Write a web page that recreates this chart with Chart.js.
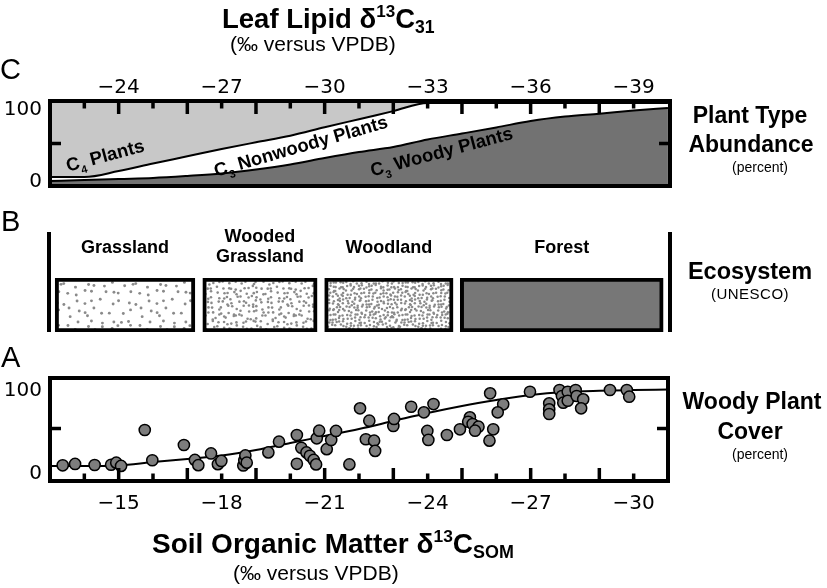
<!DOCTYPE html>
<html><head><meta charset="utf-8">
<script src="https://cdn.jsdelivr.net/npm/chart.js@4.4.1/dist/chart.umd.min.js"></script>
<style>
html,body{margin:0;padding:0;background:#fff;}
#wrap{position:relative;width:827px;height:588px;overflow:hidden;font-family:"Liberation Sans",Arial,sans-serif;color:#000;}
canvas{position:absolute;left:0;top:0;}
.t{position:absolute;white-space:nowrap;line-height:1;}
.b{font-weight:bold;}
.c{text-align:center;width:200px;}
sup{font-size:0.62em;vertical-align:0.62em;line-height:0;}
sub{font-size:0.64em;vertical-align:-0.3em;line-height:0;}
</style></head>
<body><div id="wrap">
<canvas id="cC" width="827" height="588"></canvas>
<canvas id="cB" width="827" height="588"></canvas>
<canvas id="cA" width="827" height="588"></canvas>

<div class="t b" style="left:222px;top:5px;font-size:27.5px">Leaf Lipid δ<sup>13</sup>C<sub>31</sub></div>
<div class="t" style="left:230px;top:33px;font-size:21px">(‰ versus VPDB)</div>
<div class="t" style="left:0px;top:55px;font-size:29px">C</div>
<div class="t" style="left:1px;top:207px;font-size:29px">B</div>
<div class="t" style="left:1px;top:343px;font-size:29px">A</div>

<div class="t b c" style="left:650px;top:104px;font-size:23px">Plant Type</div>
<div class="t b c" style="left:651px;top:133px;font-size:23px">Abundance</div>
<div class="t c" style="left:660px;top:160px;font-size:14px">(percent)</div>
<div class="t b c" style="left:650px;top:260px;font-size:23.5px">Ecosystem</div>
<div class="t c" style="left:650px;top:286px;font-size:15px;letter-spacing:0.5px">(UNESCO)</div>
<div class="t b c" style="left:652px;top:390px;font-size:23px">Woody Plant</div>
<div class="t b c" style="left:650px;top:420px;font-size:23px">Cover</div>
<div class="t c" style="left:660px;top:447px;font-size:14px">(percent)</div>

<div class="t b" style="left:152px;top:530px;font-size:28px">Soil Organic Matter δ<sup>13</sup>C<sub>SOM</sub></div>
<div class="t" style="left:233px;top:562px;font-size:21px">(‰ versus VPDB)</div>
</div>
<script>
// ---------------- DATA ----------------
// Panel C: leaf lipid δ13C31 (‰ vs VPDB) and plant type abundance (%)
const leafD13C      = [-22,-23,-24,-25,-26,-27,-28,-29,-30,-31,-32,-33,-34,-35,-36,-37,-38,-39,-40];
const c3WoodyPct    = [3.7,4.9,6.2,7.4,9.9,13.0,17.9,24.1,32.1,39.5,45.7,55.0,62.3,69.8,77.8,83.3,86.8,90.7,93.8];
const c3NonwoodyPct = [4.9,3.7,9.8,17.9,24.3,30.2,33.6,35.5,37.9,40.5,44.3,45.0,37.7,30.2,22.2,16.7,13.2,9.3,6.2];
const c4Pct         = [91.4,91.4,84.0,74.7,65.8,56.8,48.5,40.4,30.0,20.0,10.0,0,0,0,0,0,0,0,0];
const leafTicks     = [-24,-27,-30,-33,-36,-39];

// Panel B: ecosystem classes along soil δ13C
const ecoNames = ['Grassland', ['Wooded','Grassland'], 'Woodland', 'Forest'];
const ecoFrom  = [-13.15, -17.45, -21.0, -24.95];
const ecoTo    = [-17.22, -20.78, -24.74, -30.86];

// Panel A: soil organic matter δ13C (‰) vs woody plant cover (%)
const somD13C = [-13.37,-13.73,-14.30,-14.78,-14.93,-15.07,-15.76,-15.98,-16.90,-17.22,-17.32,-17.69,-17.89,-17.99,
  -18.63,-18.66,-18.69,-18.73,-19.36,-19.67,-20.19,-20.19,-20.32,-20.47,-20.57,-20.68,-20.75,-20.77,-20.84,
  -21.06,-21.19,-21.33,-21.72,-22.03,-22.20,-22.30,-22.44,-22.47,-23.00,-23.02,-23.52,-23.89,-24.17,-23.99,
  -24.02,-24.56,-24.94,-25.23,-25.18,-25.31,-25.48,-25.38,-25.82,-26.20,-26.04,-25.91,-25.80,-26.98,-27.54,
  -27.54,-27.54,-27.84,-27.91,-27.95,-28.08,-28.08,-28.31,-28.34,-28.53,-28.47,-29.31,-29.80,-29.87];
const woodyCover = [3.4,5.1,3.8,4.1,6.7,2.6,48.1,9.8,29.1,10.2,3.6,18.4,4.8,8.9,
  3.2,9.8,15.9,6.7,19.7,33.3,41.8,5.3,25.6,19.7,15.5,10.2,4.5,37.6,47.2,
  23.8,35.5,46.9,4.5,75.6,36.4,59.9,34.6,21.6,53.2,62.1,77.6,70.5,81.0,46.9,
  35.5,41.8,49.0,64.2,58.6,55.7,52.3,47.2,94.6,80.7,70.5,49.0,34.6,96.6,81.9,
  74.3,68.4,98.8,91.2,82.7,96.6,85.2,98.8,91.2,87.0,75.6,98.8,98.8,90.3];
const fitD13C  = [-13,-14,-15,-16,-17,-18,-19,-20,-21,-22,-23,-24,-25,-26,-27,-28,-29,-30,-31];
const fitCover = [2.5,2.5,3.2,7.6,11.4,15.8,22.8,31.6,40.5,49.4,59.5,69.6,78.5,86.0,92.4,96.2,97.8,98.7,99.4];
const somTicks = [-15,-18,-21,-24,-27,-30];

// ---------------- HELPERS ----------------
Chart.defaults.font.family = '"DejaVu Sans"';
Chart.defaults.color = '#000';
const minus = v => (v < 0 ? '\u2212' + Math.abs(v) : String(v));
const TICKFONT = {family:'"DejaVu Sans"', size:20};

function hash(a,b,s){ const v = Math.sin(a*127.1 + b*311.7 + s*74.7) * 43758.5453; return v - Math.floor(v); }
function stipple(spacing, n, r, seed){
  const tile = spacing*n;
  const c = document.createElement('canvas'); c.width = c.height = tile;
  const g = c.getContext('2d'); g.fillStyle = '#fff'; g.fillRect(0,0,tile,tile);
  g.fillStyle = '#8a8a8a';
  for (let i=0;i<n;i++) for (let j=0;j<n;j++){
    const x = (i+0.5)*spacing + (hash(i,j,seed)-0.5)*spacing*0.85;
    const y = (j+0.5)*spacing + (hash(j,i,seed+3)-0.5)*spacing*0.85;
    for (const ox of [-tile,0,tile]) for (const oy of [-tile,0,tile]){
      g.beginPath(); g.arc(x+ox,y+oy,r,0,Math.PI*2); g.fill();
    }
  }
  return g.createPattern(c,'repeat');
}
function seg(ctx,x1,y1,x2,y2){ ctx.beginPath(); ctx.moveTo(x1,y1); ctx.lineTo(x2,y2); ctx.stroke(); }
function drawRich(ctx, cx, cy, deg, parts, size){
  ctx.save();
  ctx.translate(cx,cy); ctx.rotate(deg*Math.PI/180);
  const big = `bold ${size}px "Liberation Sans"`, small = `bold ${Math.round(size*0.6)}px "Liberation Sans"`;
  let w = 0;
  for (const [t,s] of parts){ ctx.font = s?small:big; w += ctx.measureText(t).width; }
  let xx = -w/2;
  ctx.textAlign='left'; ctx.textBaseline='alphabetic'; ctx.fillStyle='#000';
  for (const [t,s] of parts){
    ctx.font = s?small:big;
    ctx.fillText(t, xx, size*0.36 + (s ? size*0.3 : 0));
    xx += ctx.measureText(t).width;
  }
  ctx.restore();
}
function frameAndTicks(chart, cfg){
  const {ctx, chartArea:a, scales:{x,y}} = chart;
  ctx.save();
  ctx.strokeStyle='#000'; ctx.fillStyle='#000'; ctx.lineCap='butt';
  ctx.lineWidth = 4;
  ctx.strokeRect(a.left, a.top, a.right-a.left, a.bottom-a.top);
  ctx.lineWidth = 3.5;
  for (let v = cfg.from; v >= cfg.to; v--){
    const p = x.getPixelForValue(v);
    const L = cfg.isLong(v) ? 13 : 7.5;
    if (cfg.edge === 'top') seg(ctx,p,a.top,p,a.top+L); else seg(ctx,p,a.bottom,p,a.bottom-L);
  }
  const py = y.getPixelForValue(50);
  seg(ctx,a.left,py,a.left+11,py); seg(ctx,a.right,py,a.right-11,py);
  ctx.font = '20px "DejaVu Sans"'; ctx.textAlign='right'; ctx.textBaseline='middle';
  for (const l of cfg.yLabels) ctx.fillText(l.t, 42, y.getPixelForValue(l.v) + l.dy);
  ctx.restore();
}

// ---------------- PANEL C ----------------
const woodyTop = c3WoodyPct.slice();
const c3Top = c3WoodyPct.map((w,i)=> w + c3NonwoodyPct[i]);
const c4Top = c3Top.map((v,i)=> v + c4Pct[i]);
const pts = arr => leafD13C.map((x,i)=>({x, y:arr[i]}));

new Chart(document.getElementById('cC'), {
  type:'line',
  data:{datasets:[
    {label:'C3 woody plants', data:pts(woodyTop), borderColor:'#000', borderWidth:2, backgroundColor:'#727272', fill:'start', pointRadius:0, cubicInterpolationMode:'monotone'},
    {label:'C3 nonwoody plants', data:pts(c3Top), borderColor:'#000', borderWidth:2, backgroundColor:'#ffffff', fill:'start', pointRadius:0, cubicInterpolationMode:'monotone'},
    {label:'C4 plants', data:pts(c4Top), borderWidth:0, borderColor:'rgba(0,0,0,0)', backgroundColor:'#c8c8c8', fill:'start', pointRadius:0}
  ]},
  options:{
    responsive:false, animation:false, events:[],
    layout:{padding:{left:50, right:157, top:60, bottom:402}},
    plugins:{legend:{display:false}, tooltip:{enabled:false}},
    scales:{
      x:{type:'linear', position:'top', reverse:true, min:-40.06, max:-22,
         afterBuildTicks:s=>{ s.ticks = leafTicks.map(v=>({value:v})); },
         afterFit:s=>{ s.height = 41; },
         grid:{display:false, drawTicks:false}, border:{display:false},
         ticks:{font:TICKFONT, color:'#000', padding:1, maxRotation:0, autoSkip:false, callback:v=>minus(v)}},
      y:{display:false, min:-2.5, max:102.5}
    }
  },
  plugins:[{
    id:'panelC',
    afterDatasetsDraw(chart){
      const {ctx, scales:{x,y}} = chart;
      drawRich(ctx, x.getPixelForValue(-23.6), y.getPixelForValue(35.8), -15, [['C',0],['4',1],[' Plants',0]], 18.5);
      drawRich(ctx, x.getPixelForValue(-29.3), y.getPixelForValue(47.5), -16, [['C',0],['3',1],[' Nonwoody Plants',0]], 18.5);
      drawRich(ctx, x.getPixelForValue(-33.4), y.getPixelForValue(40.5), -15, [['C',0],['3',1],[' Woody Plants',0]], 18.5);
    },
    afterDraw(chart){
      frameAndTicks(chart, {from:-23, to:-39, edge:'top', isLong:v=>Math.abs(v)%2===0,
        yLabels:[{t:'100', v:100, dy:7},{t:'0', v:0, dy:-2}]});
    }
  }]
});

// ---------------- PANEL B ----------------
const ecoFills = [stipple(9,8,1.45,1), stipple(5,12,1.3,2), stipple(3.6,20,1.25,3), '#777777'];
new Chart(document.getElementById('cB'), {
  type:'bar',
  data:{labels:['Ecosystem'], datasets: ecoNames.map((n,i)=>({
    label: Array.isArray(n) ? n.join(' ') : n,
    data:[[ecoFrom[i], ecoTo[i]]],
    backgroundColor: ecoFills[i], borderColor:'#000', borderWidth:4, borderSkipped:false,
    grouped:false, barPercentage:1, categoryPercentage:1
  }))},
  options:{
    indexAxis:'y', responsive:false, animation:false, events:[],
    layout:{padding:{left:50, right:159, top:278, bottom:256}},
    plugins:{legend:{display:false}, tooltip:{enabled:false}},
    scales:{
      x:{type:'linear', reverse:true, min:-31, max:-13, display:false},
      y:{type:'category', display:false}
    }
  },
  plugins:[{
    id:'panelB',
    afterDraw(chart){
      const {ctx, chartArea:a, scales:{x}} = chart;
      ctx.save();
      ctx.strokeStyle='#000'; ctx.lineWidth=4;
      seg(ctx, a.left-1, 232, a.left-1, a.bottom);
      seg(ctx, a.right+2, 232, a.right+2, a.bottom);
      ctx.fillStyle='#000'; ctx.textAlign='center'; ctx.textBaseline='middle';
      ctx.font='bold 18px "Liberation Sans"';
      ecoNames.forEach((n,i)=>{
        const cx = x.getPixelForValue((ecoFrom[i]+ecoTo[i])/2);
        if (Array.isArray(n)){ ctx.fillText(n[0], cx, 237); ctx.fillText(n[1], cx, 257); }
        else ctx.fillText(n, cx, 248);
      });
      ctx.restore();
    }
  }]
});

// ---------------- PANEL A ----------------
new Chart(document.getElementById('cA'), {
  type:'scatter',
  data:{datasets:[
    {label:'Sites', data: somD13C.map((x,i)=>({x, y:woodyCover[i]})), pointRadius:5.6,
     pointBackgroundColor:'#7d7d7d', pointBorderColor:'#000', pointBorderWidth:1.5, order:0},
    {type:'line', label:'Fit', data: fitD13C.map((x,i)=>({x, y:fitCover[i]})), borderColor:'#000', borderWidth:2,
     pointRadius:0, cubicInterpolationMode:'monotone', fill:false, order:1}
  ]},
  options:{
    responsive:false, animation:false, events:[],
    layout:{padding:{left:50, right:159, top:378, bottom:0}},
    plugins:{legend:{display:false}, tooltip:{enabled:false}},
    scales:{
      x:{type:'linear', position:'bottom', reverse:true, min:-31, max:-13,
         afterBuildTicks:s=>{ s.ticks = somTicks.map(v=>({value:v})); },
         afterFit:s=>{ s.height = 107; },
         grid:{display:false, drawTicks:false}, border:{display:false},
         ticks:{font:TICKFONT, color:'#000', padding:11, maxRotation:0, autoSkip:false, callback:v=>minus(v)}},
      y:{display:false, min:-16.5, max:114}
    }
  },
  plugins:[{
    id:'panelA',
    afterDraw(chart){
      frameAndTicks(chart, {from:-14, to:-30, edge:'bottom', isLong:v=>Math.abs(v)%2===1,
        yLabels:[{t:'100', v:100, dy:2},{t:'0', v:0, dy:6}]});
    }
  }]
});
</script>
</body></html>
